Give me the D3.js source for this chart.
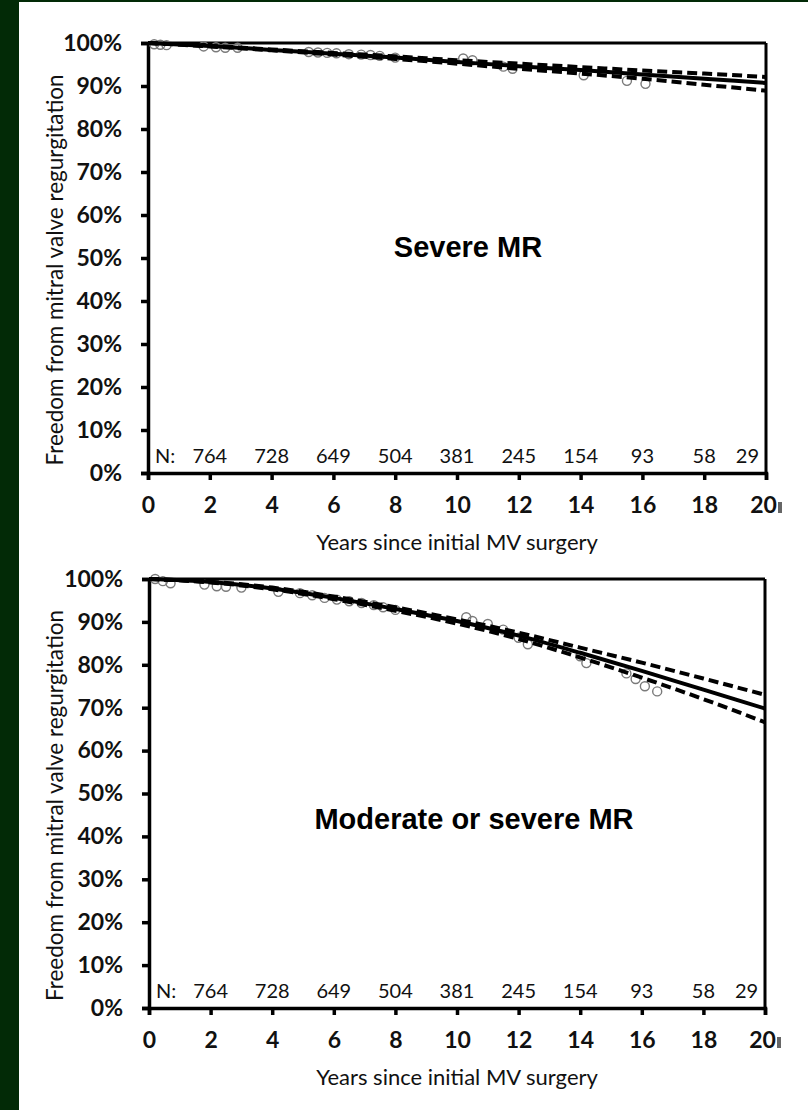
<!DOCTYPE html>
<html>
<head>
<meta charset="utf-8">
<script src="https://cdn.jsdelivr.net/npm/d3@7/dist/d3.min.js"></script>
<style>
  html, body { margin: 0; padding: 0; background: #022a06; }
  svg { display: block; }
</style>
</head>
<body>
<svg id="chart" width="808" height="1110"></svg>
<script>
// ---------------- DATA ----------------
const xTicks = [0, 2, 4, 6, 8, 10, 12, 14, 16, 18, 20];
const yTicks = [0, 10, 20, 30, 40, 50, 60, 70, 80, 90, 100];
const fitYears = [0, 2, 4, 6, 8, 10, 12, 14, 16, 18, 20];

// Panel 1: Severe MR
const severeFit   = [100, 99.3, 98.4, 97.5, 96.6, 95.6, 94.6, 93.7, 92.7, 91.7, 90.7];
const severeUpper = [100, 99.35, 98.5, 97.7, 96.9, 96.0, 95.2, 94.4, 93.6, 92.9, 92.1];
const severeLower = [100, 99.2, 98.3, 97.3, 96.3, 95.2, 94.0, 92.9, 91.7, 90.3, 88.9];
const severeKMt = [0.2, 0.4, 0.6, 1.8, 2.2, 2.5, 2.9, 5.2, 5.5, 5.8, 6.1, 6.5, 6.9, 7.2, 7.5, 8.0, 10.2, 10.5, 11.5, 11.8, 14.1, 15.5, 16.1];
const severeKMs = [99.7, 99.6, 99.5, 99.2, 99.0, 98.9, 98.9, 97.9, 97.8, 97.7, 97.6, 97.4, 97.3, 97.2, 97.0, 96.6, 96.4, 96.0, 94.5, 94.0, 92.5, 91.2, 90.5];

// Panel 2: Moderate or severe MR
const modFit   = [100, 99.3, 97.8, 95.6, 93.0, 90.2, 86.8, 82.8, 78.6, 74.2, 69.8];
const modUpper = [100, 99.35, 98.0, 95.9, 93.4, 90.6, 87.5, 84.0, 80.5, 76.8, 73.0];
const modLower = [100, 99.2, 97.6, 95.3, 92.6, 89.6, 86.0, 81.7, 77.0, 72.0, 66.6];
const modKMt = [0.2, 0.45, 0.7, 1.8, 2.2, 2.5, 3.0, 4.2, 4.9, 5.3, 5.7, 6.1, 6.5, 6.9, 7.3, 7.6, 8.0, 10.3, 10.5, 11.0, 11.5, 12.0, 12.3, 14.0, 14.2, 15.5, 15.8, 16.1, 16.5];
const modKMs = [100, 99.5, 99.0, 98.7, 98.3, 98.2, 98.0, 97.0, 96.7, 96.2, 95.6, 95.2, 94.8, 94.4, 93.9, 93.4, 92.8, 91.1, 90.2, 89.5, 88.2, 86.3, 84.8, 82.0, 80.4, 78.0, 76.7, 75.0, 73.8];

// Numbers at risk
const atRiskYears = [2, 4, 6, 8, 10, 12, 14, 16, 18, 19.4];
const atRiskN = [764, 728, 649, 504, 381, 245, 154, 93, 58, 29];

const panelTitles = ["Severe MR", "Moderate or severe MR"];
const yAxisTitle = "Freedom from mitral valve regurgitation";
const xAxisTitle = "Years since initial MV surgery";

// ---------------- DRAW ----------------
const svg = d3.select("#chart");
svg.append("rect").attr("x", 19).attr("y", 2).attr("width", 789).attr("height", 1108).attr("fill", "#ffffff");

const FONT = "Lato, 'Open Sans', sans-serif";

function drawPanel(cfg) {
  const x = d3.scaleLinear().domain([0, 20]).range([cfg.left, cfg.right]);
  const y = d3.scaleLinear().domain([0, 100]).range([cfg.bottom, cfg.top]);
  const g = svg.append("g");

  // frame top and right
  g.append("line").attr("x1", x(0)).attr("x2", x(20)).attr("y1", y(100)).attr("y2", y(100))
    .attr("stroke", "#000").attr("stroke-width", 3);
  g.append("line").attr("x1", x(20)).attr("x2", x(20)).attr("y1", y(100)).attr("y2", y(0))
    .attr("stroke", "#000").attr("stroke-width", 3);

  // y axis
  const yAxis = d3.axisLeft(y).tickValues(yTicks).tickFormat(d => d + "%").tickSizeOuter(0).tickSize(7).tickPadding(19);
  const ya = g.append("g").attr("transform", `translate(${x(0)},0)`).call(yAxis);
  ya.select(".domain").attr("stroke", "#000").attr("stroke-width", 3.5);
  ya.selectAll(".tick line").attr("stroke", "#000").attr("stroke-width", 3.5);
  ya.selectAll(".tick text").attr("font-family", FONT).attr("font-weight", "bold")
    .attr("font-size", 23).attr("fill", "#111");

  // x axis
  const xAxis = d3.axisBottom(x).tickValues(xTicks).tickSizeOuter(0).tickSize(7).tickPadding(17);
  const xa = g.append("g").attr("transform", `translate(0,${y(0)})`).call(xAxis);
  xa.select(".domain").attr("stroke", "#000").attr("stroke-width", 3.5);
  xa.selectAll(".tick line").attr("stroke", "#000").attr("stroke-width", 3.5);
  xa.selectAll(".tick text").attr("font-family", FONT).attr("font-weight", "bold")
    .attr("font-size", 23).attr("fill", "#111");
  xa.selectAll(".tick text").filter(d => d === 20).attr("dx", -3);

  // axis titles
  g.append("text").attr("transform", `translate(${cfg.ytitleX},${(y(0) + y(100)) / 2 + 12}) rotate(-90)`)
    .attr("text-anchor", "middle").attr("font-family", FONT).attr("font-size", 22.5).attr("fill", "#111")
    .text(yAxisTitle);
  g.append("text").attr("x", (x(0) + x(20)) / 2).attr("y", y(0) + 77)
    .attr("text-anchor", "middle").attr("font-family", FONT).attr("font-size", 22).attr("fill", "#111")
    .text(xAxisTitle);

  // at risk row
  g.append("text").attr("x", x(0) + 7).attr("y", y(0) - 10).attr("font-family", FONT)
    .attr("font-size", 20).attr("fill", "#111").text("N:");
  g.selectAll("text.risk").data(atRiskN).enter().append("text").attr("class", "risk")
    .attr("x", (d, i) => x(atRiskYears[i])).attr("y", y(0) - 10).attr("text-anchor", "middle")
    .attr("font-family", FONT).attr("font-size", 20).attr("fill", "#111").text(d => d);

  // panel title
  g.append("text").attr("x", cfg.titleX).attr("y", cfg.titleY).attr("text-anchor", "middle")
    .attr("font-family", "'Liberation Sans', Arial, sans-serif").attr("font-weight", "bold")
    .attr("font-size", 29).attr("fill", "#000").text(cfg.title);

  // KM circles
  g.selectAll("circle.km").data(cfg.kmT).enter().append("circle").attr("class", "km")
    .attr("cx", d => x(d)).attr("cy", (d, i) => y(cfg.kmS[i])).attr("r", 4.5)
    .attr("fill", "none").attr("stroke", "#7a7a7a").attr("stroke-width", 1.4);

  const line = vals => d3.line().x((d, i) => x(fitYears[i])).y(d => y(d)).curve(d3.curveMonotoneX)(vals);
  g.append("path").attr("d", line(cfg.upper)).attr("fill", "none").attr("stroke", "#000")
    .attr("stroke-width", 4).attr("stroke-dasharray", "10,5");
  g.append("path").attr("d", line(cfg.lower)).attr("fill", "none").attr("stroke", "#000")
    .attr("stroke-width", 4).attr("stroke-dasharray", "10,5");
  g.append("path").attr("d", line(cfg.fit)).attr("fill", "none").attr("stroke", "#000")
    .attr("stroke-width", 4);

  // small clipped-label artifact after "20"
  g.append("rect").attr("x", x(20) + 12).attr("y", y(0) + 29).attr("width", 4).attr("height", 11).attr("fill", "#666");
}

drawPanel({ left: 148, right: 766, top: 43, bottom: 473, ytitleX: 63, title: panelTitles[0], titleX: 468, titleY: 257,
  fit: severeFit, upper: severeUpper, lower: severeLower, kmT: severeKMt, kmS: severeKMs });
drawPanel({ left: 149, right: 765, top: 579, bottom: 1008, ytitleX: 63, title: panelTitles[1], titleX: 474, titleY: 829,
  fit: modFit, upper: modUpper, lower: modLower, kmT: modKMt, kmS: modKMs });
</script>
</body>
</html>
